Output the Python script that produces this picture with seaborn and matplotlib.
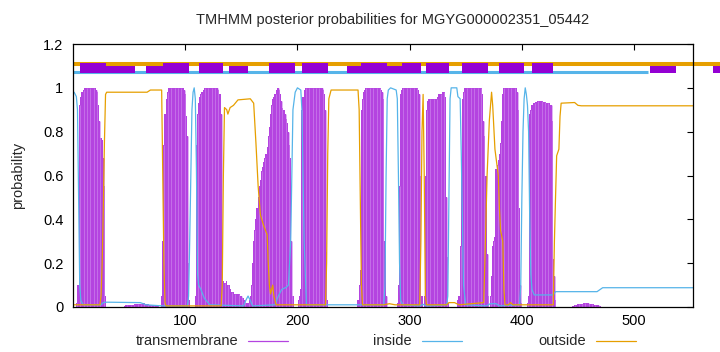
import matplotlib
matplotlib.use("Agg")
import matplotlib.pyplot as plt
from matplotlib.lines import Line2D
import pandas as pd
import seaborn as sns


# ---- Data ----------------------------------------------------####

seq_length = 552.5
title_text = "TMHMM posterior probabilities for MGYG000002351_05442"

# transmembrane posterior, one value per residue, stored by segment start
tm_starts = [3, 46, 79, 109, 155, 201, 254, 289, 313, 343, 372, 405, 445]
tm_values = [
    # helix 1
    [0.02, 0.10, 0.10, 0.92, 0.96, 0.98, 0.99, 1.00, 1.00, 1.00, 1.00, 1.00, 1.00, 1.00,
     1.00, 1.00, 1.00, 1.00, 0.99, 0.98, 0.92, 0.85, 0.77, 0.76, 0.68, 0.55, 0.05],
    # low stretch
    [0.005, 0.008, 0.010, 0.010, 0.010, 0.010, 0.010, 0.010, 0.011, 0.012, 0.012, 0.012,
     0.013, 0.013, 0.014, 0.015, 0.015, 0.016, 0.016, 0.015, 0.014, 0.012, 0.010, 0.009,
     0.008, 0.008, 0.007, 0.006, 0.005, 0.004, 0.003],
    # helix 2
    [0.05, 0.30, 0.74, 0.88, 0.95, 0.98, 1.00, 1.00, 1.00, 1.00, 1.00, 1.00, 1.00, 1.00,
     1.00, 1.00, 1.00, 1.00, 1.00, 1.00, 0.99, 0.97, 0.87, 0.78, 0.20, 0.03],
    # helix 3 + tail
    [0.05, 0.74, 0.88, 0.93, 0.96, 0.97, 0.98, 0.99, 1.00, 1.00, 1.00, 1.00, 1.00, 1.00,
     1.00, 1.00, 1.00, 1.00, 1.00, 1.00, 1.00, 0.99, 0.97, 0.88, 0.12, 0.12, 0.11, 0.11,
     0.12, 0.10, 0.10, 0.08, 0.07, 0.07, 0.07, 0.06, 0.06, 0.06, 0.06, 0.06, 0.05, 0.05,
     0.04, 0.04, 0.03, 0.02],
    # helix 4
    [0.02, 0.02, 0.03, 0.05, 0.10, 0.20, 0.30, 0.35, 0.40, 0.45, 0.50, 0.55, 0.58, 0.62,
     0.64, 0.66, 0.68, 0.70, 0.73, 0.78, 0.82, 0.88, 0.92, 0.95, 0.96, 0.97, 0.99, 1.00,
     1.00, 0.99, 0.97, 0.94, 0.91, 0.90, 0.88, 0.86, 0.84, 0.80, 0.74, 0.68, 0.30, 0.05],
    # helix 5
    [0.03, 0.05, 0.08, 0.90, 0.96, 0.99, 1.00, 1.00, 1.00, 1.00, 1.00, 1.00, 1.00, 1.00,
     1.00, 1.00, 1.00, 1.00, 1.00, 1.00, 1.00, 1.00, 0.99, 0.97, 0.90, 0.25, 0.03],
    # helix 6
    [0.03, 0.10, 0.17, 0.90, 0.95, 0.98, 0.99, 1.00, 1.00, 1.00, 1.00, 1.00, 1.00, 1.00,
     1.00, 1.00, 1.00, 1.00, 1.00, 1.00, 1.00, 0.99, 0.98, 0.95, 0.30, 0.05],
    # helix 7
    [0.02, 0.10, 0.55, 0.97, 0.99, 1.00, 1.00, 1.00, 1.00, 1.00, 1.00, 1.00, 1.00, 1.00,
     1.00, 1.00, 1.00, 1.00, 1.00, 0.99, 0.97, 0.60, 0.05],
    # helix 8
    [0.05, 0.60, 0.90, 0.94, 0.95, 0.95, 0.95, 0.95, 0.95, 0.95, 0.95, 0.95, 0.96, 0.97,
     0.97, 0.97, 0.98, 0.98, 0.98, 0.96, 0.50, 0.23, 0.02],
    # helix 9
    [0.03, 0.05, 0.28, 0.67, 0.95, 0.98, 1.00, 1.00, 1.00, 1.00, 1.00, 1.00, 1.00, 1.00,
     1.00, 1.00, 1.00, 1.00, 1.00, 1.00, 1.00, 1.00, 0.97, 0.85, 0.78, 0.60, 0.24, 0.05],
    # helix 10
    [0.05, 0.14, 0.28, 0.30, 0.32, 0.63, 0.65, 0.67, 0.70, 0.75, 0.85, 0.97, 1.00, 1.00,
     1.00, 1.00, 1.00, 1.00, 1.00, 1.00, 1.00, 1.00, 1.00, 1.00, 0.98, 0.90, 0.45, 0.10,
     0.02],
    # helix 11
    [0.02, 0.05, 0.88, 0.90, 0.92, 0.93, 0.93, 0.935, 0.935, 0.94, 0.94, 0.94, 0.94, 0.94,
     0.935, 0.935, 0.935, 0.93, 0.93, 0.93, 0.93, 0.92, 0.85, 0.22, 0.14, 0.03],
    # small bump
    [0.003, 0.005, 0.007, 0.009, 0.011, 0.012, 0.013, 0.014, 0.015, 0.015, 0.016, 0.016,
     0.016, 0.016, 0.016, 0.015, 0.015, 0.014, 0.013, 0.012, 0.011, 0.010, 0.008, 0.007,
     0.005, 0.004, 0.002],
]

# inside posterior (position, probability)
inside_pos = [1, 3, 4, 5, 6, 7, 9, 25, 27, 30, 60, 65, 80, 102, 103, 104, 105, 106, 107,
              108, 109, 110, 111, 112, 114, 117, 122, 152, 154, 156, 158, 160, 180, 183,
              186, 190, 192, 194, 196, 198, 200, 203, 204, 206, 208, 277, 278, 279, 280,
              281, 283, 288, 289, 290, 291, 292, 294, 309, 312, 315, 318, 333, 334, 335,
              336, 337, 342, 343, 345, 346, 347, 348, 350, 368, 372, 377, 380, 398, 399,
              400, 401, 402, 403, 404, 405, 406, 407, 408, 409, 411, 428, 430, 467, 472,
              553]
inside_prob = [0.98, 0.96, 0.90, 0.50, 0.10, 0.03, 0.01, 0.01, 0.02, 0.022, 0.02, 0.01,
               0.005, 0.005, 0.05, 0.30, 0.60, 0.90, 0.98, 1.00, 0.95, 0.63, 0.15, 0.10,
               0.08, 0.04, 0.01, 0.005, 0.03, 0.05, 0.03, 0.005, 0.01, 0.05, 0.08, 0.09,
               0.10, 0.30, 0.90, 0.98, 1.00, 0.99, 0.90, 0.30, 0.01, 0.01, 0.10, 0.60, 0.95,
               0.99, 1.00, 0.99, 0.95, 0.60, 0.20, 0.03, 0.01, 0.005, 0.012, 0.005, 0.005,
               0.01, 0.05, 0.50, 0.95, 1.00, 1.00, 0.96, 0.95, 0.70, 0.40, 0.10, 0.01,
               0.005, 0.015, 0.015, 0.005, 0.01, 0.10, 0.50, 0.80, 0.95, 1.00, 0.97, 0.92,
               0.80, 0.40, 0.15, 0.08, 0.055, 0.055, 0.07, 0.07, 0.088, 0.088]

# outside posterior (position, probability)
outside_pos = [1, 24, 25, 26, 27, 28, 29, 30, 66, 69, 79, 80, 81, 82, 83, 132, 133, 134,
               135, 137, 138, 140, 143, 147, 158, 161, 163, 165, 167, 170, 173, 174, 175,
               176, 178, 179, 181, 225, 226, 227, 228, 230, 254, 255, 256, 257, 258, 277,
               282, 287, 309, 310, 311, 312, 313, 314, 315, 333, 335, 340, 344, 366, 367,
               369, 371, 373, 374, 376, 377, 379, 380, 381, 383, 384, 385, 388, 390, 392,
               428, 429, 430, 431, 433, 434, 435, 447, 450, 453, 553]
outside_prob = [0.01, 0.01, 0.05, 0.20, 0.45, 0.75, 0.97, 0.98, 0.98, 0.99, 0.99, 0.60,
                0.20, 0.02, 0.005, 0.005, 0.10, 0.60, 0.91, 0.90, 0.88, 0.91, 0.92, 0.945,
                0.95, 0.93, 0.75, 0.55, 0.42, 0.37, 0.33, 0.20, 0.10, 0.06, 0.10, 0.05,
                0.01, 0.01, 0.20, 0.70, 0.95, 0.99, 0.99, 0.90, 0.50, 0.10, 0.01, 0.01,
                0.015, 0.01, 0.01, 0.30, 0.80, 0.97, 0.60, 0.05, 0.01, 0.01, 0.02, 0.02,
                0.01, 0.02, 0.20, 0.60, 0.85, 0.98, 0.92, 0.72, 0.68, 0.60, 0.45, 0.35,
                0.30, 0.08, 0.01, 0.01, 0.02, 0.01, 0.01, 0.30, 0.50, 0.69, 0.72, 0.87,
                0.93, 0.933, 0.92, 0.918, 0.918]

# predicted topology bars drawn above the plot (start, end)
tm_boxes_front = [(6, 29), (80, 103), (112, 134), (175, 198), (204, 227), (257, 280),
                  (293, 310), (315, 335), (347, 370), (380, 402), (409, 428)]
tm_boxes_back = [(29, 55), (65, 80), (139, 156), (244, 257), (280, 293), (514, 537),
                 (570, 600)]
inside_line = (0, 512)
outside_line = (0, 600)

legend_labels = ["transmembrane", "inside", "outside"]

# colours
tm_color = "#b444e0"
stripe_color = "#cf86ee"
box_color = "#9400d3"
inside_color = "#56b4e9"
outside_color = "#e69f00"


# ---- Build frames -----------------------------------------------####

tm_pos = []
tm_prob = []
for start, vals in zip(tm_starts, tm_values):
    for i, v in enumerate(vals):
        tm_pos.append(start + i)
        tm_prob.append(v)
tm_df = pd.DataFrame({"position": tm_pos, "probability": tm_prob})

inside_df = pd.DataFrame({"position": inside_pos, "probability": inside_prob})
outside_df = pd.DataFrame({"position": outside_pos, "probability": outside_prob})


# ---- Plot -----------------------------------------------------------####

sns.set_theme(style="white")
plt.rcParams["font.family"] = ["Liberation Sans", "DejaVu Sans"]

fig = plt.figure(figsize=(7.2, 3.52), dpi=100)
ax = fig.add_axes([73 / 720, 45 / 352, 620 / 720, 263 / 352])

# transmembrane impulses, solid with faint light seams every third residue
ax.bar(tm_df.position, tm_df.probability, width=1.0, color=tm_color,
       linewidth=0, zorder=2)
seams = tm_df[tm_df.position % 3 == 0]
ax.vlines(seams.position + 0.5, 0, seams.probability, color=stripe_color,
          linewidth=0.45, zorder=2.5)

# inside / outside curves
sns.lineplot(x="position", y="probability", data=inside_df, color=inside_color,
             linewidth=0.9, estimator=None, sort=False, ax=ax, zorder=3)
sns.lineplot(x="position", y="probability", data=outside_df, color=outside_color,
             linewidth=0.9, estimator=None, sort=False, ax=ax, zorder=3)

# topology bars on top
ax.plot(list(inside_line), [1.073, 1.073], color=inside_color, linewidth=2.2,
        solid_capstyle="butt", clip_on=False, zorder=4)
for s, e in tm_boxes_back:
    ax.bar(s, 0.046, width=e - s, bottom=1.066, align="edge", color=box_color,
           linewidth=0, clip_on=False, zorder=5)
ax.plot(list(outside_line), [1.11, 1.11], color=outside_color, linewidth=2.9,
        solid_capstyle="butt", clip_on=False, zorder=6)
for s, e in tm_boxes_front:
    ax.bar(s, 0.046, width=e - s, bottom=1.066, align="edge", color=box_color,
           linewidth=0, clip_on=False, zorder=7)

ax.set_xlim(0, seq_length)
ax.set_ylim(0, 1.2)
ax.set_xticks([100, 200, 300, 400, 500])
ax.set_yticks([0, 0.2, 0.4, 0.6, 0.8, 1.0, 1.2])
ax.set_yticklabels(["0", "0.2", "0.4", "0.6", "0.8", "1", "1.2"])
ax.tick_params(direction="in", length=4, width=0.8, top=True, right=True,
               labelsize=10.5, colors="black")
ax.tick_params(axis="y", pad=7)
ax.tick_params(axis="x", pad=5)
for sp in ax.spines.values():
    sp.set_color("black")
    sp.set_linewidth(0.9)
    sp.set_zorder(8)
ax.set_xlabel("")
ax.set_ylabel("probability", fontsize=10.5, labelpad=13)

fig.text(393 / 720, 1 - 20 / 352, title_text, ha="center", va="center", fontsize=10.5)

# legend below the plot, gnuplot style (label then line)
legend_y = 1 - 341 / 352
label_right = [238, 412, 586]
line_start = [248, 422, 596]
for lab, xr, xs, col in zip(legend_labels, label_right, line_start,
                            [tm_color, inside_color, outside_color]):
    fig.text(xr / 720, legend_y, lab, ha="right", va="center", fontsize=10.5)
    fig.add_artist(Line2D([xs / 720, (xs + 40) / 720], [legend_y, legend_y],
                          color=col, linewidth=0.9, transform=fig.transFigure))

fig.savefig("out.png", dpi=100)
